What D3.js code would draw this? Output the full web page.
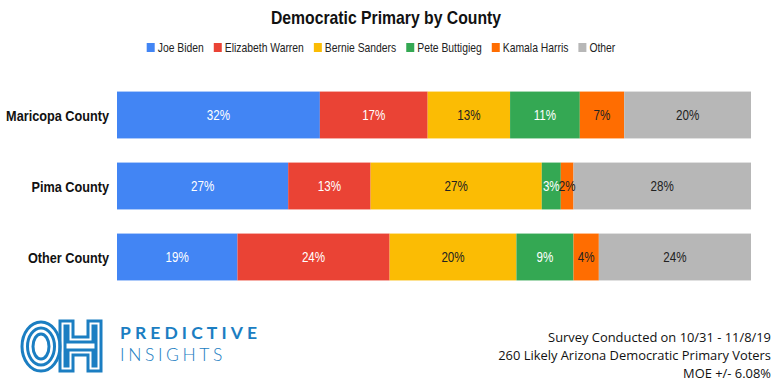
<!DOCTYPE html>
<html>
<head>
<meta charset="utf-8">
<script src="https://cdn.jsdelivr.net/npm/d3@7"></script>
<style>
  html, body { margin: 0; padding: 0; background: #fff; }
  svg { display: block; }
  .narrow { font-family: "Liberation Sans", Arial, sans-serif; }
</style>
</head>
<body>
<svg id="chart" width="779" height="391"></svg>
<script>
const counties = ['Maricopa County', 'Pima County', 'Other County'];
const candidates = ['Joe Biden', 'Elizabeth Warren', 'Bernie Sanders', 'Pete Buttigieg', 'Kamala Harris', 'Other'];
const colors = ['#4285f4', '#ea4335', '#fbbc04', '#34a853', '#ff6d01', '#b7b7b7'];
const labelColors = ['#fff', '#fff', '#222', '#fff', '#222', '#222'];
// percentages per county, in candidate order
const maricopa = [32, 17, 13, 11, 7, 20];
const pima = [27, 13, 27, 3, 2, 28];
const other = [19, 24, 20, 9, 4, 24];
const footnotes = ['Survey Conducted on 10/31 - 11/8/19', '260 Likely Arizona Democratic Primary Voters', 'MOE +/- 6.08%'];

const rows = [maricopa, pima, other].map((vals, i) => ({ county: counties[i], vals }));
const SQUEEZE = 0.83; // arial-narrow look

const svg = d3.select('#chart');
const x = d3.scaleLinear().domain([0, 100]).range([117, 751]);
const y = d3.scaleBand().domain(counties).range([79.5, 292.5]).paddingInner(0.34).paddingOuter(0.17);
const color = d3.scaleOrdinal().domain(candidates).range(colors);

// text drawn squeezed horizontally around its anchor
function narrowText(parent, px, py, str) {
    return parent.append('text').attr('class', 'narrow')
        .attr('transform', `translate(${px},${py}) scale(${SQUEEZE},1)`).text(str);
}

// title
narrowText(svg, 386, 24, 'Democratic Primary by County')
    .attr('text-anchor', 'middle').attr('font-size', 19).attr('font-weight', 'bold').attr('fill', '#111');

// legend, laid out from measured text widths
const legend = svg.append('g');
let lx = 0;
candidates.forEach((c, i) => {
    const item = legend.append('g').attr('transform', `translate(${lx},0)`);
    item.append('rect').attr('x', 0).attr('y', -9).attr('width', 8).attr('height', 9).attr('fill', color(c));
    const t = narrowText(item, 11, 0, c).attr('font-size', 12.5).attr('fill', '#222');
    lx += 11 + t.node().getComputedTextLength() * SQUEEZE + 10;
});
legend.attr('transform', `translate(${381 - (lx - 10) / 2},52)`);

// bars
const stack = rows.map(r => {
    let acc = 0;
    return r.vals.map((v, i) => { const d = { county: r.county, cand: candidates[i], i, x0: acc, x1: acc + v, v }; acc += v; return d; });
});

const rowG = svg.append('g').selectAll('g').data(stack).join('g');
rowG.selectAll('rect').data(d => d).join('rect')
    .attr('x', d => x(d.x0)).attr('width', d => x(d.x1) - x(d.x0))
    .attr('y', d => y(d.county)).attr('height', y.bandwidth())
    .attr('fill', d => color(d.cand));
rowG.each(function (d) {
    d.forEach(s => {
        narrowText(d3.select(this), (x(s.x0) + x(s.x1)) / 2, y(s.county) + y.bandwidth() / 2 + 5, s.v + '%')
            .attr('text-anchor', 'middle').attr('font-size', 14).attr('fill', labelColors[s.i]);
    });
});

// category labels
counties.forEach(c => {
    narrowText(svg, 109, y(c) + y.bandwidth() / 2 + 5.5, c)
        .attr('text-anchor', 'end').attr('font-size', 15.3).attr('font-weight', 'bold').attr('fill', '#111');
});

// logo
const blue = '#1b7ec2';
const logo = svg.append('g').attr('fill', 'none').attr('stroke', blue).attr('stroke-width', 3);
[[19, 24.5], [13.5, 18.5], [8, 12.5]].forEach(([rx, ry]) =>
    logo.append('ellipse').attr('cx', 41).attr('cy', 346.5).attr('rx', rx).attr('ry', ry));
const hOutline = (o) => {
    const l = 60 + o, r = 101 - o, t = 321 + o, b = 371 - o, s = 13 - 2 * o, m1 = 337 + o, m2 = 355 - o;
    return `M${l},${t}H${l + s}V${m1}H${r - s}V${t}H${r}V${b}H${r - s}V${m2}H${l + s}V${b}H${l}Z`;
};
[0, 5].forEach(o => logo.append('path').attr('d', hOutline(o)));

svg.append('text').attr('x', 120).attr('y', 339).attr('font-family', 'Lato, "Open Sans", sans-serif')
    .attr('font-size', 17.5).attr('font-weight', 'bold').attr('letter-spacing', 4.1).attr('fill', blue)
    .text('PREDICTIVE');
svg.append('text').attr('x', 120).attr('y', 361).attr('font-family', 'Lato, "Open Sans", sans-serif')
    .attr('font-size', 17.5).attr('font-weight', 300).attr('letter-spacing', 3.6).attr('fill', blue)
    .text('INSIGHTS');

// footnote
svg.append('g').selectAll('text').data(footnotes).join('text')
    .attr('x', 771).attr('y', (d, i) => 342 + i * 18).attr('text-anchor', 'end')
    .attr('font-family', '"Open Sans", Lato, sans-serif').attr('font-size', 12.9).attr('fill', '#111')
    .text(d => d);
</script>
</body>
</html>
